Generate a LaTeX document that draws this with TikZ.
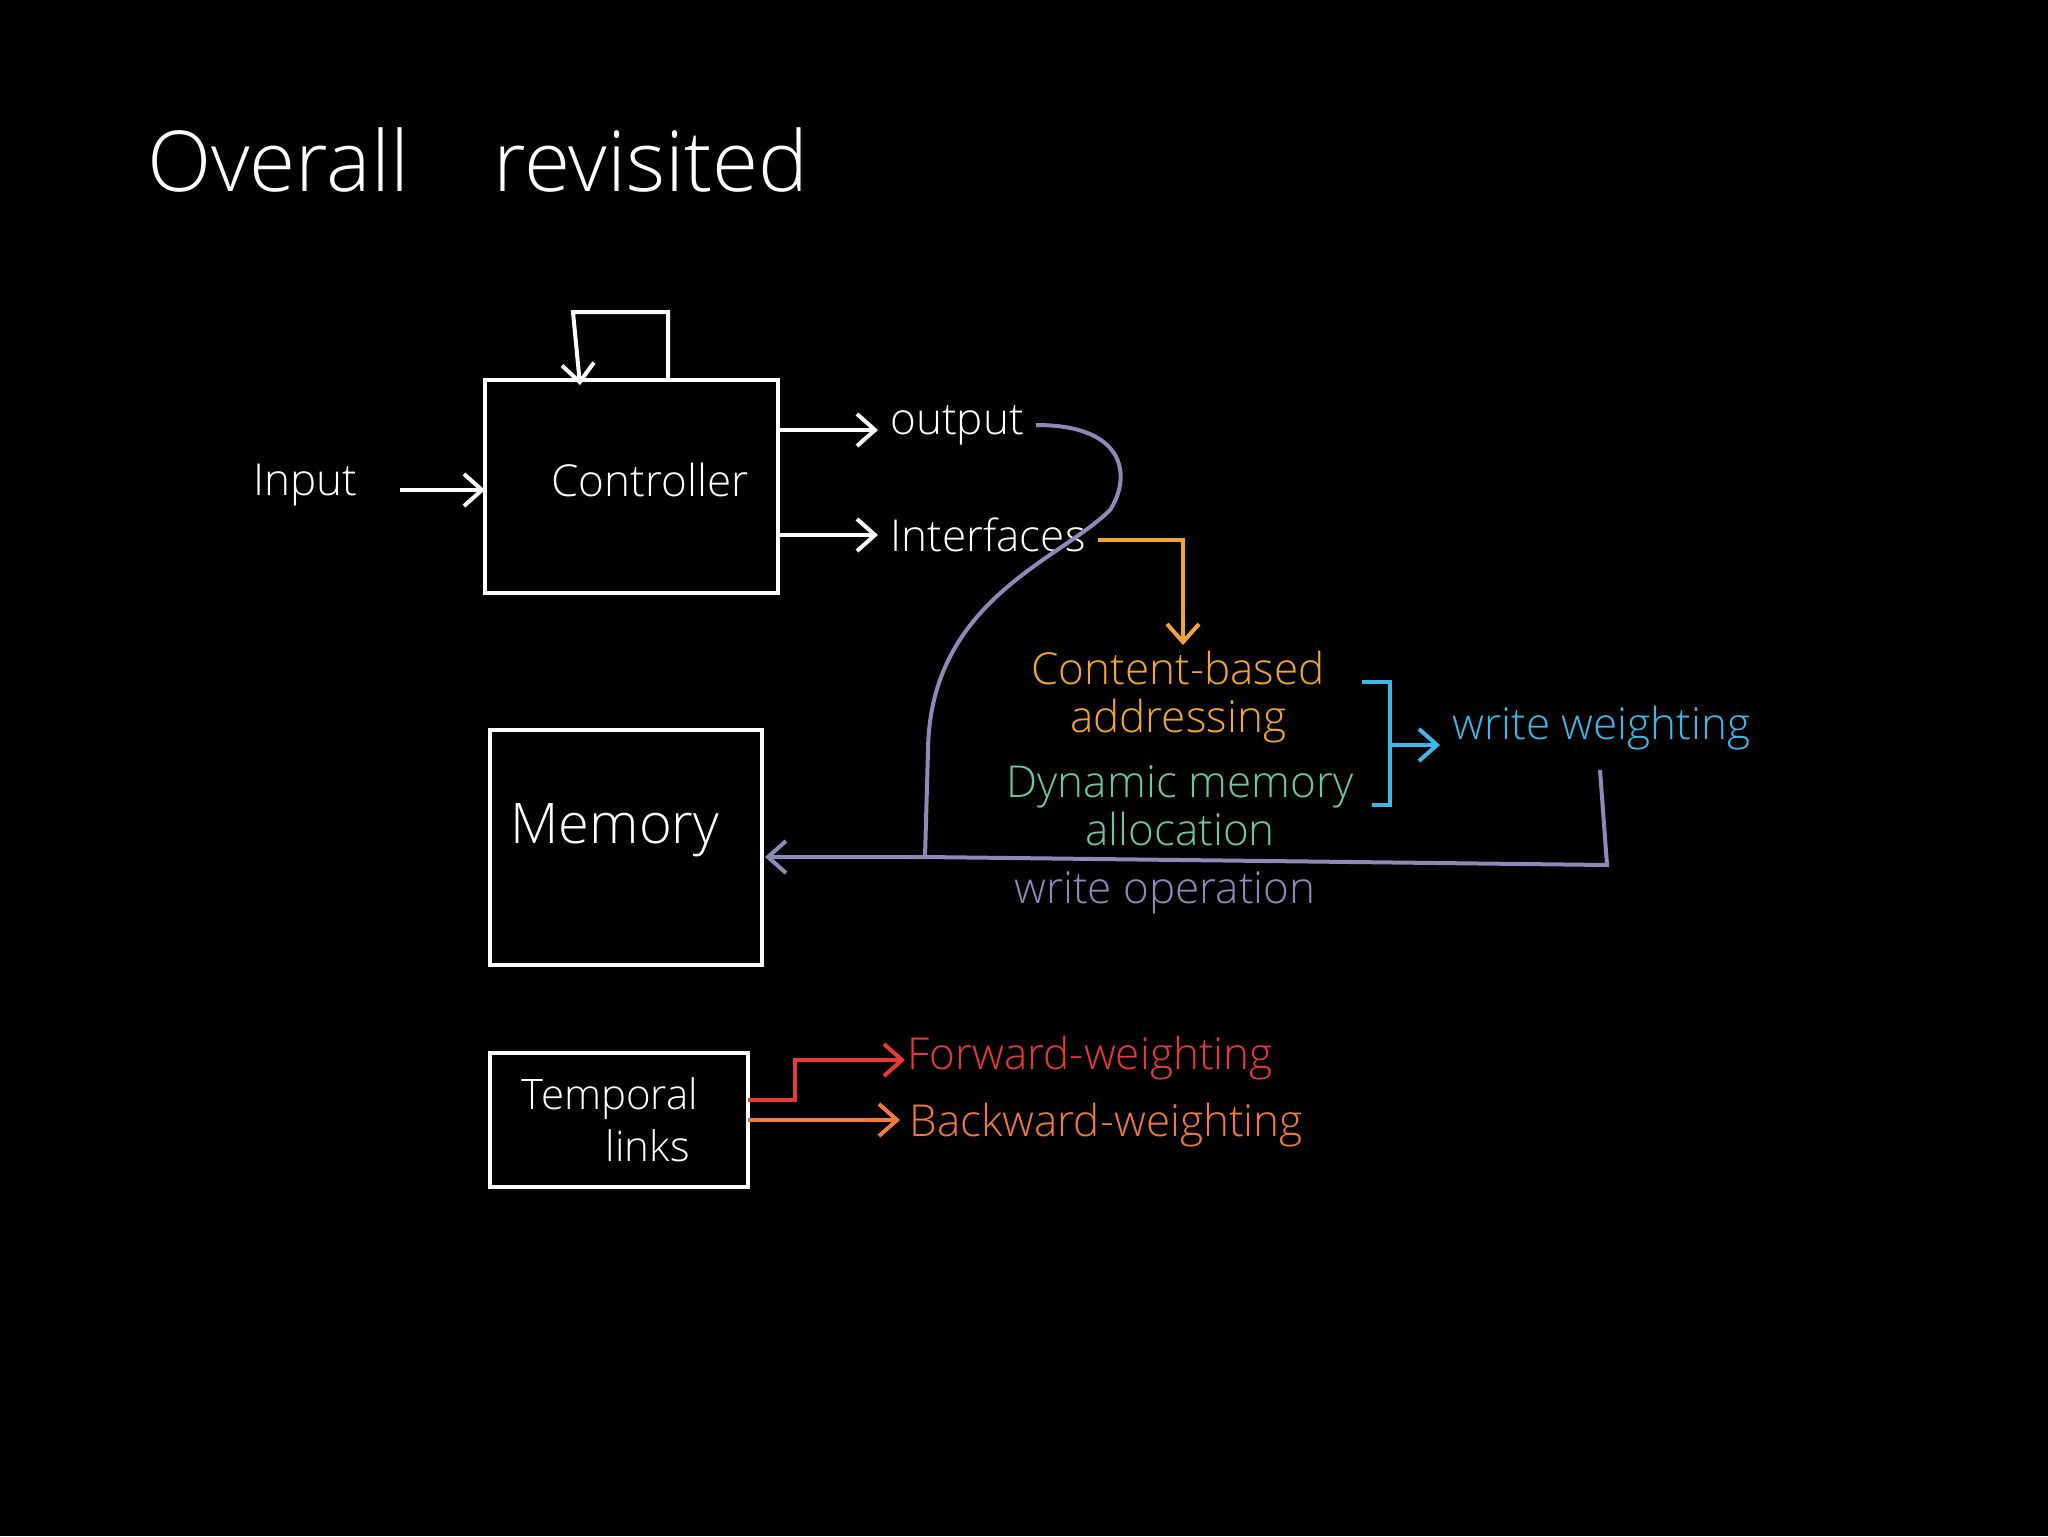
\documentclass[tikz,border=0pt]{standalone}
\usepackage{fontspec}
\setmainfont{Open Sans Light}
\usetikzlibrary{arrows.meta}
\definecolor{corg}{HTML}{F2A531}
\definecolor{cgrn}{HTML}{6CC7A0}
\definecolor{ccyn}{HTML}{3DB8E8}
\definecolor{cpur}{HTML}{8E89B8}
\definecolor{cred}{HTML}{E8383A}
\definecolor{cor2}{HTML}{F27A3C}
\begin{document}
\begin{tikzpicture}[x=0.5pt,y=-0.5pt,
  box/.style={draw=white,line width=2.4pt},
  lbl/.style={font=\fontsize{22}{24}\selectfont,inner sep=6pt},
  wl/.style={white,line width=2pt},
  arr/.style={-{Straight Barb[length=9pt,width=16pt]}}]
\fill[black] (0,0) rectangle (2048,1536);
\useasboundingbox (0,0) rectangle (2048,1536);
\node[white,font=\fontsize{42}{44}\selectfont,anchor=west] (title) at (140,160) {Overall\quad revisited};
\draw[box] (485,380) rectangle (778,593);
\node[lbl,white] (ctrl) at (650,480) {Controller};
\coordinate (loopS) at (668,380);
\draw[wl,arr] (loopS) -- (668,312) -- (573,312) -- (580,385);
\node[lbl,white] (inp) at (305,485) {Input};
\coordinate (ci) at (485,490);
\draw[wl,arr] (400,490) -- (ci);
\node[lbl,white,anchor=west] (out) at (878,425) {output};
\draw[wl,arr] (778,430) -- (out.west|-0,430);
\node[lbl,white,anchor=west] (intf) at (878,535) {Interfaces};
\draw[wl,arr] (778,535) -- (intf.west|-0,535);
\node[lbl,corg,align=center,inner sep=1pt] (cba) at (1178,697) {Content-based\\ addressing};
\draw[corg,line width=2pt,arr] (intf.east|-0,540) -- (1183,540) -- (1183,645);
\node[lbl,cgrn,align=center,inner sep=1pt] (dma) at (1180,806) {Dynamic memory\\ allocation};
\draw[ccyn,line width=2pt] (1362,682) -- (1390,682) -- (1390,805) -- (1372,805);
\node[lbl,ccyn,anchor=west] (ww) at (1440,728) {write weighting};
\draw[ccyn,line width=2pt,arr] (1390,745) -- (ww.west|-0,745);
\draw[box] (490,730) rectangle (762,965);
\node[lbl,white,font=\fontsize{28}{30}\selectfont] (mem) at (615,830) {Memory};
\coordinate (mi) at (765,857);
\draw[cpur,line width=2pt,arr] (1600,770) -- (1607,865) -- (925,857) -- (mi);
\draw[cpur,line width=2pt] (out.east) .. controls (1130,425) and (1130,480) .. (1110,510)
  .. controls (1060,560) and (930,600) .. (928,750) -- (925,857);
\node[lbl,cpur,inner sep=1pt] (wo) at (1165,893) {write operation};
\draw[box] (490,1053) rectangle (748,1187);
\node[lbl,white,align=left,font=\fontsize{21}{26}\selectfont] (tl) at (610,1120) {Temporal\\\qquad links};
\node[lbl,cred,anchor=west] (fw) at (895,1058) {Forward-weighting};
\draw[cred,line width=2pt,arr] (748,1100) -- (795,1100) -- (795,1060) -- (905,1060);
\node[lbl,cor2,anchor=west] (bw) at (897,1125) {Backward-weighting};
\draw[cor2,line width=2pt,arr] (748,1120) -- (900,1120);
\end{tikzpicture}
\end{document}
